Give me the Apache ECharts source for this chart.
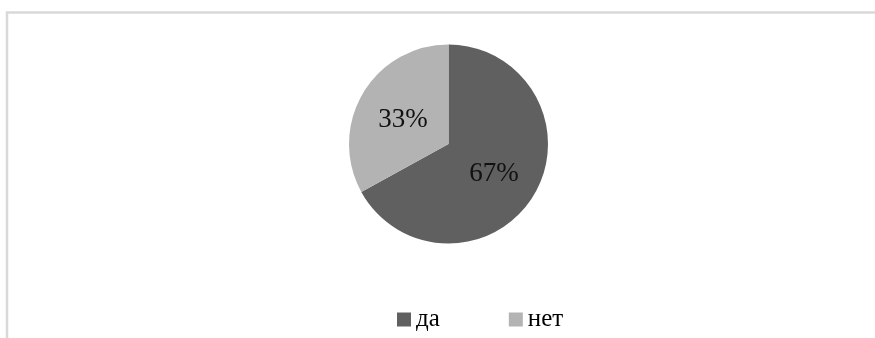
<!DOCTYPE html>
<html>
<head>
<meta charset="utf-8">
<script src="https://cdn.jsdelivr.net/npm/echarts@6/dist/echarts.min.js"></script>
<style>
html,body{margin:0;padding:0;background:#fff;}
#c{width:875px;height:338px;}
</style>
</head>
<body>
<div id="c"></div>
<script>
const categories = ['да', 'нет'];
const values = [67, 33];
const colors = ['#606060', '#b3b3b3'];

const chart = echarts.init(document.getElementById('c'), null, {renderer: 'canvas'});
chart.setOption({
  animation: false,
  backgroundColor: '#ffffff',
  color: colors,
  graphic: [{
    type: 'rect',
    shape: {x: 7, y: 12.5, width: 1000, height: 1000},
    style: {fill: 'none', stroke: '#d9d9d9', lineWidth: 2.5},
    silent: true
  }],
  legend: {
    data: categories,
    left: 392,
    top: 302,
    itemWidth: 14,
    itemHeight: 14,
    itemGap: 69,
    icon: 'rect',
    textStyle: {fontFamily: '"Liberation Serif", "DejaVu Serif", serif', fontSize: 25, color: '#000'}
  },
  series: [{
    type: 'pie',
    center: [448.5, 144],
    radius: [0, 99.5],
    startAngle: 90,
    clockwise: true,
    label: {
      show: true,
      position: 'inside',
      formatter: '{d}%',
      fontFamily: 'Liberation Serif',
      fontSize: 27,
      color: '#111'
    },
    labelLayout: {dy: 3},
    labelLine: {show: false},
    itemStyle: {borderWidth: 0},
    emphasis: {disabled: true},
    data: categories.map((c, i) => ({name: c, value: values[i]}))
  }]
});
</script>
</body>
</html>
